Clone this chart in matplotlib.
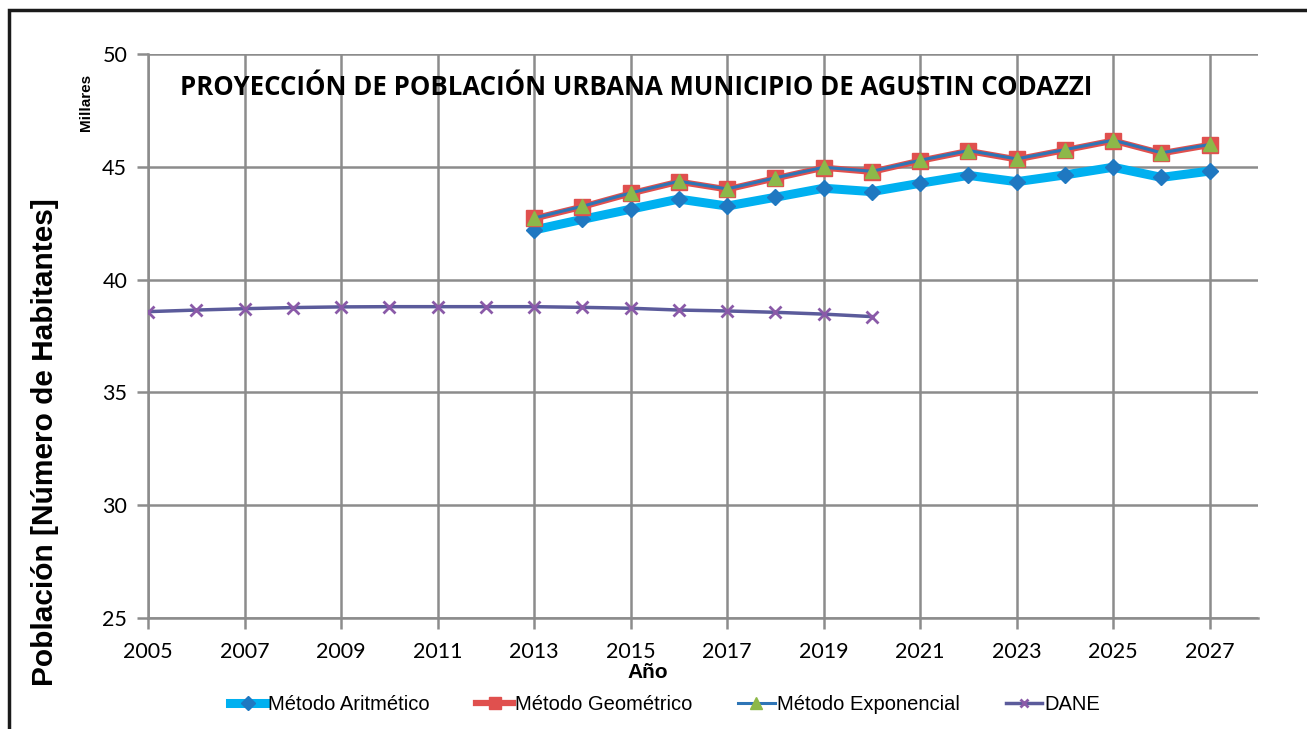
import numpy as np
import matplotlib.pyplot as plt
from matplotlib.patches import Rectangle

# datos (miles de habitantes)
anios_proy = list(range(2013, 2028))
aritmetico = [42.20, 42.67, 43.12, 43.57, 43.26, 43.65, 44.05, 43.90, 44.27,
              44.62, 44.34, 44.64, 44.98, 44.53, 44.81]
geometrico = [42.71, 43.23, 43.82, 44.34, 44.00, 44.49, 44.96, 44.78, 45.27,
              45.70, 45.33, 45.74, 46.16, 45.60, 45.97]
exponencial = [42.73, 43.25, 43.84, 44.36, 44.02, 44.51, 44.98, 44.80, 45.29,
               45.72, 45.35, 45.76, 46.18, 45.62, 45.99]

anios_dane = list(range(2005, 2021))
dane = [38.58, 38.65, 38.71, 38.76, 38.79, 38.80, 38.80, 38.80, 38.80,
        38.77, 38.73, 38.65, 38.61, 38.55, 38.47, 38.36]

xticks = list(range(2005, 2028, 2))
yticks = [25, 30, 35, 40, 45, 50]

fig = plt.figure(figsize=(13.07, 7.29), dpi=100)
ax = fig.add_axes([148 / 1307, 1 - 618 / 729, (1258 - 148) / 1307, (618 - 54) / 729])

# marco exterior
fig.patches.append(Rectangle((9 / 1307, -0.1), 1.2, 1 - 10 / 729 + 0.1,
                             transform=fig.transFigure, fill=False,
                             edgecolor="#1a1a1a", linewidth=2.5))

ax.plot(anios_proy, aritmetico, color="#00B0F0", linewidth=6.5, marker="D",
        markersize=8.5, markerfacecolor="#1F78C1", markeredgecolor="#1F78C1",
        label="Método Aritmético", zorder=3)
ax.plot(anios_proy, geometrico, color="#E0504E", linewidth=4.5, marker="s",
        markersize=11, markerfacecolor="#E0504E", markeredgecolor="#E0504E",
        label="Método Geométrico", zorder=4)
ax.plot(anios_proy, exponencial, color="#2E75B6", linewidth=2.2, marker="^",
        markersize=10, markerfacecolor="#8DB849", markeredgecolor="#8DB849",
        label="Método Exponencial", zorder=5)
ax.plot(anios_dane, dane, color="#5B5B9B", linewidth=2.5, marker="x",
        markersize=8, markeredgewidth=2, markeredgecolor="#8A5AA8",
        label="DANE", zorder=3)

ax.set_xlim(2005, 2028)
ax.set_ylim(25, 50)
ax.set_xticks(xticks)
ax.set_yticks(yticks)
ax.grid(True, color="#8c8c8c", linewidth=1.8)
ax.set_axisbelow(True)
for s in ["top", "right"]:
    ax.spines[s].set_visible(False)
for s in ["left", "bottom"]:
    ax.spines[s].set_color("#8c8c8c")
    ax.spines[s].set_linewidth(1.8)
ax.tick_params(axis="both", direction="out", length=8, width=1.8, color="#8c8c8c",
               labelsize=15.5)
for lab in ax.get_xticklabels() + ax.get_yticklabels():
    lab.set_fontfamily("Lato")
ax.tick_params(axis="x", pad=9)
ax.tick_params(axis="y", pad=7)

ax.text(0.029, 0.941, "PROYECCIÓN DE POBLACIÓN URBANA MUNICIPIO DE AGUSTIN CODAZZI",
        transform=ax.transAxes, fontsize=18.5, fontweight="bold",
        family="Open Sans", va="center", ha="left", zorder=6)

fig.text(45 / 1307, 1 - 442 / 729, "Población [Número de Habitantes]", rotation=90,
         fontsize=21.5, fontweight="bold", family="Liberation Sans",
         ha="center", va="center")
fig.text(86 / 1307, 1 - 102 / 729, "Millares", rotation=90, fontsize=11,
         fontweight="bold", family="Liberation Sans", ha="center", va="center")
fig.text(648 / 1307, 1 - 672 / 729, "Año", fontsize=15, fontweight="bold",
         family="Liberation Sans", ha="center", va="center")

leg = fig.legend(loc="center", bbox_to_anchor=(665 / 1307, 1 - 705 / 729), ncol=4,
                 frameon=False,
                 prop={"family": "Liberation Sans", "size": 14.5},
                 handlelength=1.8, handletextpad=0.1, columnspacing=2.3,
                 borderpad=0.1, markerscale=0.8)
leg.set_zorder(10)

fig.savefig("out.png", dpi=100)
